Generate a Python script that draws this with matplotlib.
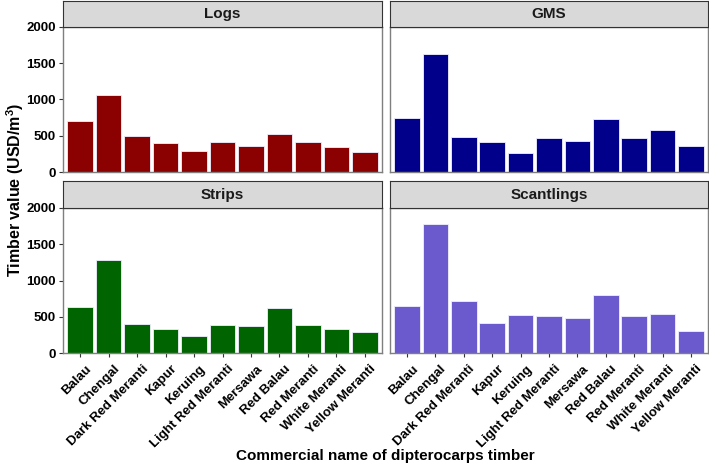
import matplotlib.pyplot as plt
import matplotlib.transforms as mtransforms
import numpy as np

plt.rcParams['font.family'] = ['Liberation Sans', 'DejaVu Sans']
plt.rcParams['mathtext.fontset'] = 'custom'
plt.rcParams['mathtext.bf'] = 'Liberation Sans:bold'
plt.rcParams['mathtext.rm'] = 'Liberation Sans:bold'

species = ['Balau', 'Chengal', 'Dark Red Meranti', 'Kapur', 'Keruing',
           'Light Red Meranti', 'Mersawa', 'Red Balau', 'Red Meranti',
           'White Meranti', 'Yellow Meranti']

logs = [710, 1065, 500, 400, 295, 420, 365, 520, 420, 350, 280]
gms = [750, 1625, 485, 412, 262, 475, 425, 727, 475, 582, 362]
strips = [640, 1285, 405, 336, 235, 391, 378, 621, 391, 333, 290]
scantlings = [653, 1784, 713, 419, 524, 506, 483, 800, 506, 538, 299]

panels = [('Logs', logs, '#8B0000'),
          ('GMS', gms, '#00008B'),
          ('Strips', strips, '#006400'),
          ('Scantlings', scantlings, '#6A5ACD')]

W, H = 709, 469
fig = plt.figure(figsize=(W / 100, H / 100), dpi=100)

# pixel boxes: (left, right) per column, (plot_top, plot_bottom, strip_top) per row
cols = [(63, 382), (390, 708)]
rows = [(27, 172, 1), (208, 353, 181)]

x = np.arange(len(species))
shift = mtransforms.ScaledTranslation(5 / 100, -3 / 100, fig.dpi_scale_trans)
for i, (name, vals, col) in enumerate(panels):
    r, c = divmod(i, 2)
    x0, x1 = cols[c]
    top, bot, stop = rows[r]
    ax = fig.add_axes([x0 / W, 1 - bot / H, (x1 - x0) / W, (bot - top) / H])
    ax.bar(x, vals, width=0.9, color=col, edgecolor='#F0F0FF', linewidth=0.6)
    ax.set_xlim(-0.6, len(species) - 0.4)
    ax.set_ylim(0, 2000)
    ax.set_yticks([0, 500, 1000, 1500, 2000])
    ax.set_xticks(x)
    for s in ax.spines.values():
        s.set_color('#7F7F7F')
        s.set_linewidth(1.0)
    ax.tick_params(length=3, width=0.8, color='#333333', labelsize=9.5, pad=2)
    if c == 0:
        ax.set_yticklabels(['0', '500', '1000', '1500', '2000'], fontweight='bold')
    else:
        ax.tick_params(axis='y', left=False, labelleft=False)
    if r == 1:
        ax.set_xticklabels(species, rotation=45, ha='right', va='top',
                           rotation_mode='anchor', fontweight='bold')
        for lab in ax.get_xticklabels():
            lab.set_transform(lab.get_transform() + shift)
    else:
        ax.tick_params(axis='x', bottom=False, labelbottom=False)

    sax = fig.add_axes([x0 / W, 1 - top / H, (x1 - x0) / W, (top - stop) / H])
    sax.set_facecolor('#D9D9D9')
    sax.set_xticks([])
    sax.set_yticks([])
    for s in sax.spines.values():
        s.set_color('#333333')
        s.set_linewidth(0.8)
    sax.text(0.5, 0.5, name, ha='center', va='center', fontsize=11,
             fontweight='bold', color='#1A1A1A', transform=sax.transAxes)

fig.text(15 / W, 1 - 190 / H, 'Timber value (USD/m$^\\mathbf{3}$)', rotation=90,
         ha='center', va='center', fontsize=11.5, fontweight='bold')
fig.text(385 / W, 1 - 456 / H, 'Commercial name of dipterocarps timber',
         ha='center', va='center', fontsize=11, fontweight='bold')

fig.savefig('out.png', dpi=100)
